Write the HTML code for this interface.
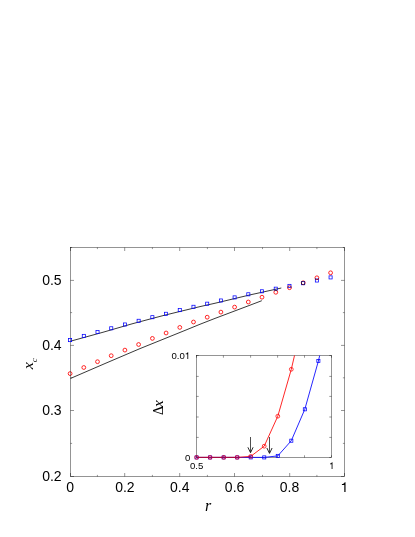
<!DOCTYPE html>
<html><head><meta charset="utf-8"><title>chart</title>
<style>html,body{margin:0;padding:0;background:#fff;overflow:hidden}svg{display:block;position:absolute;left:0;top:0;will-change:transform}</style></head>
<body>
<svg width="415" height="537" viewBox="0 0 415 537">
<rect width="415" height="537" fill="#fff"/>
<g stroke="#000" stroke-width="0.42" fill="none">
<rect x="70.5" y="247.5" width="274.00" height="229.00"/>
<path d="M70.50 476.5v-3.5M70.50 247.5v3.5"/>
<path d="M97.40 476.5v-1.6M97.40 247.5v1.6"/>
<path d="M124.70 476.5v-3.5M124.70 247.5v3.5"/>
<path d="M152.40 476.5v-1.6M152.40 247.5v1.6"/>
<path d="M179.70 476.5v-3.5M179.70 247.5v3.5"/>
<path d="M207.40 476.5v-1.6M207.40 247.5v1.6"/>
<path d="M234.50 476.5v-3.5M234.50 247.5v3.5"/>
<path d="M262.50 476.5v-1.6M262.50 247.5v1.6"/>
<path d="M289.70 476.5v-3.5M289.70 247.5v3.5"/>
<path d="M316.90 476.5v-1.6M316.90 247.5v1.6"/>
<path d="M344.50 476.5v-3.5M344.50 247.5v3.5"/>
<path d="M70.5 476.50h3.5M344.5 476.50h-3.5"/>
<path d="M70.5 443.40h1.6M344.5 443.40h-1.6"/>
<path d="M70.5 410.50h3.5M344.5 410.50h-3.5"/>
<path d="M70.5 377.80h1.6M344.5 377.80h-1.6"/>
<path d="M70.5 345.40h3.5M344.5 345.40h-3.5"/>
<path d="M70.5 312.60h1.6M344.5 312.60h-1.6"/>
<path d="M70.5 280.40h3.5M344.5 280.40h-3.5"/>
<path d="M70.5 247.50h1.6M344.5 247.50h-1.6"/>
<rect x="196.5" y="355.5" width="135.00" height="102.00"/>
<path d="M196.50 457.5v-2.2M196.50 355.5v2.2"/>
<path d="M223.40 457.5v-2.2M223.40 355.5v2.2"/>
<path d="M250.60 457.5v-2.2M250.60 355.5v2.2"/>
<path d="M277.60 457.5v-2.2M277.60 355.5v2.2"/>
<path d="M304.50 457.5v-2.2M304.50 355.5v2.2"/>
<path d="M331.50 457.5v-2.2M331.50 355.5v2.2"/>
<path d="M196.5 457.50h2.2M331.5 457.50h-2.2"/>
<path d="M196.5 437.40h2.2M331.5 437.40h-2.2"/>
<path d="M196.5 417.00h2.2M331.5 417.00h-2.2"/>
<path d="M196.5 396.40h2.2M331.5 396.40h-2.2"/>
<path d="M196.5 376.40h2.2M331.5 376.40h-2.2"/>
<path d="M196.5 355.50h2.2M331.5 355.50h-2.2"/>
</g>
<polyline points="70.5,341.20 103.0,332.25 132.0,323.85 152.0,318.50 165.0,315.10 200.0,306.60 215.0,303.25 250.0,294.90 281.3,288.00" fill="none" stroke="#222" stroke-width="0.9" stroke-linejoin="round"/>
<polyline points="70.5,378.45 106.0,363.10 140.0,348.60 186.0,330.00 200.0,324.25 215.0,318.40 250.0,305.20 261.8,300.70" fill="none" stroke="#222" stroke-width="0.9" stroke-linejoin="round"/>
<g fill="none" stroke="#00f" stroke-width="0.75">
<rect x="68.55" y="338.55" width="3.1" height="3.1"/>
<rect x="82.26" y="334.35" width="3.1" height="3.1"/>
<rect x="95.97" y="330.45" width="3.1" height="3.1"/>
<rect x="109.68" y="326.75" width="3.1" height="3.1"/>
<rect x="123.39" y="322.95" width="3.1" height="3.1"/>
<rect x="137.10" y="319.25" width="3.1" height="3.1"/>
<rect x="150.81" y="315.65" width="3.1" height="3.1"/>
<rect x="164.52" y="312.25" width="3.1" height="3.1"/>
<rect x="178.23" y="308.55" width="3.1" height="3.1"/>
<rect x="191.94" y="305.25" width="3.1" height="3.1"/>
<rect x="205.65" y="302.15" width="3.1" height="3.1"/>
<rect x="219.36" y="298.95" width="3.1" height="3.1"/>
<rect x="233.07" y="295.85" width="3.1" height="3.1"/>
<rect x="246.78" y="292.75" width="3.1" height="3.1"/>
<rect x="260.49" y="289.75" width="3.1" height="3.1"/>
<rect x="274.20" y="287.15" width="3.1" height="3.1"/>
<rect x="287.91" y="284.35" width="3.1" height="3.1"/>
<rect x="301.62" y="281.65" width="3.1" height="3.1"/>
<rect x="315.33" y="278.95" width="3.1" height="3.1"/>
<rect x="329.04" y="275.85" width="3.1" height="3.1"/>
</g>
<g fill="none" stroke="#f00" stroke-width="0.85" style="mix-blend-mode:multiply">
<circle cx="70.1" cy="373.6" r="1.9"/>
<circle cx="83.8" cy="367.5" r="1.9"/>
<circle cx="97.5" cy="361.7" r="1.9"/>
<circle cx="111.2" cy="355.7" r="1.9"/>
<circle cx="124.9" cy="350.1" r="1.9"/>
<circle cx="138.6" cy="344.5" r="1.9"/>
<circle cx="152.4" cy="338.4" r="1.9"/>
<circle cx="166.1" cy="333.0" r="1.9"/>
<circle cx="179.8" cy="327.4" r="1.9"/>
<circle cx="193.5" cy="322.0" r="1.9"/>
<circle cx="207.2" cy="317.2" r="1.9"/>
<circle cx="220.9" cy="312.1" r="1.9"/>
<circle cx="234.6" cy="307.1" r="1.9"/>
<circle cx="248.3" cy="302.0" r="1.9"/>
<circle cx="262.0" cy="297.2" r="1.9"/>
<circle cx="275.8" cy="292.3" r="1.9"/>
<circle cx="289.5" cy="287.7" r="1.9"/>
<circle cx="303.2" cy="282.8" r="1.9"/>
<circle cx="316.9" cy="277.8" r="1.9"/>
<circle cx="330.6" cy="272.8" r="1.9"/>
</g>
<polyline points="196.6,457.4 210.1,457.4 223.7,457.4 237.2,457.4 250.7,457.4 264.2,457.4 277.8,455.9 291.3,440.7 304.8,409.3 318.4,361.0 319.7,355.5" fill="none" stroke="#00f" stroke-width="0.85"/>
<polyline points="196.6,457.4 210.1,457.4 223.7,457.4 237.2,457.4 250.7,456.4 264.2,446.2 277.8,416.2 291.3,369.3 294.5,355.5" fill="none" stroke="#f00" stroke-width="0.85"/>
<path d="M196.6 457.4H239.9" fill="none" stroke="#9c0c44" stroke-width="0.95"/>
<g fill="none" stroke="#00f" stroke-width="0.75">
<rect x="195.05" y="455.85" width="3.1" height="3.1"/>
<rect x="208.58" y="455.85" width="3.1" height="3.1"/>
<rect x="222.11" y="455.85" width="3.1" height="3.1"/>
<rect x="235.64" y="455.85" width="3.1" height="3.1"/>
<rect x="249.17" y="455.85" width="3.1" height="3.1"/>
<rect x="262.70" y="455.85" width="3.1" height="3.1"/>
<rect x="276.23" y="454.35" width="3.1" height="3.1"/>
<rect x="289.76" y="439.15" width="3.1" height="3.1"/>
<rect x="303.29" y="407.75" width="3.1" height="3.1"/>
<rect x="316.82" y="359.45" width="3.1" height="3.1"/>
</g>
<g fill="none" stroke="#f00" stroke-width="0.85" opacity="0.9">
<circle cx="196.6" cy="457.4" r="1.9"/>
<circle cx="210.1" cy="457.4" r="1.9"/>
<circle cx="223.7" cy="457.4" r="1.9"/>
<circle cx="237.2" cy="457.4" r="1.9"/>
<circle cx="250.7" cy="456.4" r="1.9"/>
<circle cx="264.2" cy="446.2" r="1.9"/>
<circle cx="277.8" cy="416.2" r="1.9"/>
<circle cx="291.3" cy="369.3" r="1.9"/>
</g>
<path d="M250.5 437V452.3" fill="none" stroke="#222" stroke-width="0.8"/><path d="M247.9 447.3L250.5 452.7L253.1 447.3" fill="none" stroke="#111" stroke-width="0.9" stroke-linejoin="miter"/>
<path d="M269.5 437V453.0" fill="none" stroke="#222" stroke-width="0.8"/><path d="M266.9 448.0L269.5 453.4L272.1 448.0" fill="none" stroke="#111" stroke-width="0.9" stroke-linejoin="miter"/>
<g font-family="Liberation Sans, sans-serif" font-size="14" fill="#000">
<text x="61.6" y="481.2" text-anchor="end">0.2</text>
<text x="61.6" y="415.0" text-anchor="end">0.3</text>
<text x="61.6" y="350.3" text-anchor="end">0.4</text>
<text x="61.6" y="284.9" text-anchor="end">0.5</text>
<path d="M341.92 483.99C343.31 483.99 344.43 483.32 344.64 482.17L345.53 482.17L345.53 492.00L344.32 492.00L344.32 484.93L341.92 484.93Z" fill="#000"/>
<text x="70.1" y="492" text-anchor="middle">0</text>
<text x="124.9" y="492" text-anchor="middle">0.2</text>
<text x="179.8" y="492" text-anchor="middle">0.4</text>
<text x="234.6" y="492" text-anchor="middle">0.6</text>
<text x="289.5" y="492" text-anchor="middle">0.8</text>
</g>
<g font-family="Liberation Sans, sans-serif" font-size="9.6" fill="#000">
<text x="184.76" y="359.1" text-anchor="end">0.0</text>
<path d="M185.73 353.61C186.68 353.61 187.45 353.15 187.59 352.36L188.21 352.36L188.21 359.10L187.37 359.10L187.37 354.25L185.73 354.25Z" fill="#000"/>
<text x="190.3" y="461.0" text-anchor="end">0</text>
<text x="196.7" y="469.2" text-anchor="middle">0.5</text>
<path d="M330.00 463.51C330.95 463.51 331.72 463.05 331.86 462.26L332.48 462.26L332.48 469.00L331.64 469.00L331.64 464.15L330.00 464.15Z" fill="#000"/>
</g>
<g font-family="Liberation Serif, serif" font-size="16" fill="#000">
<text x="205" y="510.8" font-style="italic">r</text>
<text transform="translate(33.1,369.2) rotate(-90) scale(1,0.92)"><tspan font-style="italic">x</tspan><tspan font-style="italic" font-size="9" dy="4.4" dx="-0.2">c</tspan></text>
<text transform="translate(162.8,415.0) rotate(-90)" font-size="13.9">Δ</text>
<text transform="translate(162.8,407.0) rotate(-90) scale(0.95,0.9)" font-style="italic">x</text>
</g>
</svg>
</body></html>
